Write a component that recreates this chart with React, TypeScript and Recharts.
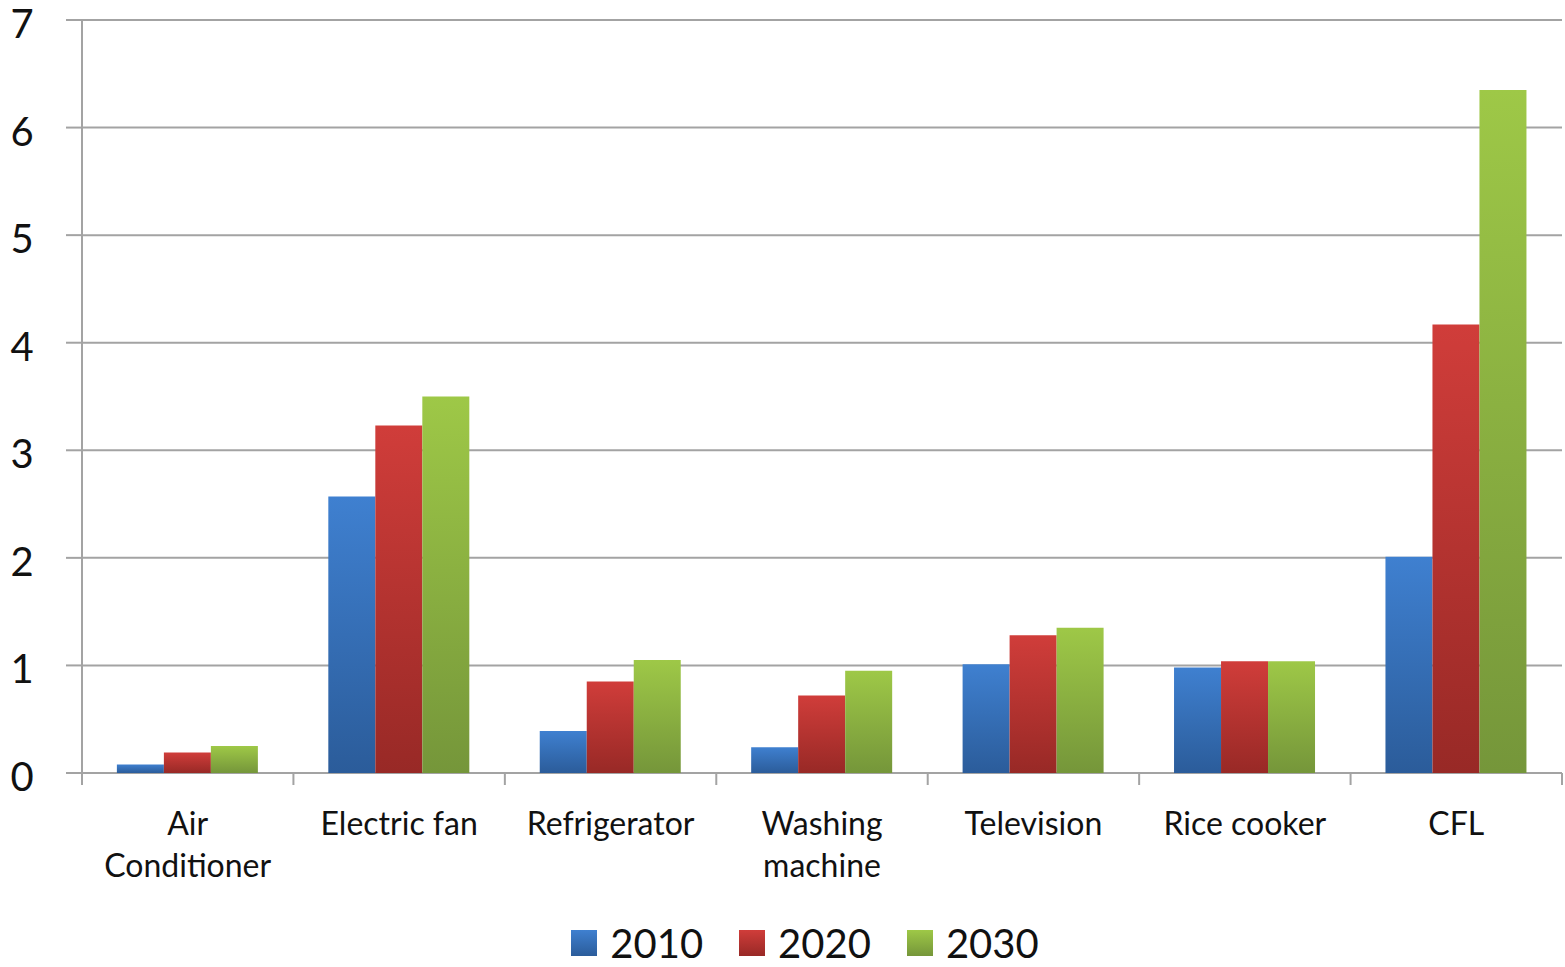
import { BarChart, Bar, XAxis, YAxis, CartesianGrid, Legend } from "recharts";

const categories = [
  "Air Conditioner",
  "Electric fan",
  "Refrigerator",
  "Washing machine",
  "Television",
  "Rice cooker",
  "CFL",
];
const v2010 = [0.08, 2.57, 0.39, 0.24, 1.01, 0.98, 2.01];
const v2020 = [0.19, 3.23, 0.85, 0.72, 1.28, 1.04, 4.17];
const v2030 = [0.25, 3.5, 1.05, 0.95, 1.35, 1.04, 6.35];
const yTicks = [0, 1, 2, 3, 4, 5, 6, 7];

const series = [
  { key: "y2010", name: "2010", top: "#3f80d0", bottom: "#2b5c9a" },
  { key: "y2020", name: "2020", top: "#d03d3a", bottom: "#982926" },
  { key: "y2030", name: "2030", top: "#9ec847", bottom: "#75963a" },
];

const data = categories.map((c, i) => ({
  name: c,
  y2010: v2010[i],
  y2020: v2020[i],
  y2030: v2030[i],
}));

const FONT = "Lato, 'Open Sans', sans-serif";
const GRID = "#a3a3a3";

const YTick = ({ y, payload }: any) => (
  <text x={22} y={y + 3} textAnchor="middle" dominantBaseline="central" fontSize={40} fill="#111" fontFamily={FONT}>
    {payload.value}
  </text>
);

// category label plus the tick marks at the band edges
const CatTick = ({ x, y, payload, index, visibleTicksCount }: any) => {
  const label: string = payload.value;
  const lines = label.length > 13 ? label.split(" ") : [label];
  const half = payload.offset ?? 0;
  const last = index === visibleTicksCount - 1;
  return (
    <g>
      <line x1={x - half} x2={x - half} y1={y} y2={y + 12} stroke={GRID} strokeWidth={2} />
      {last && <line x1={x + half} x2={x + half} y1={y} y2={y + 12} stroke={GRID} strokeWidth={2} />}
      <text textAnchor="middle" fontSize={32} fill="#111" fontFamily={FONT}>
        {lines.map((l, i) => (
          <tspan key={i} x={x} y={y + 62 + i * 42}>
            {l}
          </tspan>
        ))}
      </text>
    </g>
  );
};

const LegendContent = () => (
  <div
    style={{
      display: "flex",
      justifyContent: "center",
      alignItems: "center",
      height: 40,
      fontFamily: FONT,
      fontSize: 40,
      lineHeight: "40px",
      color: "#111",
      paddingLeft: 48,
    }}
  >
    {series.map((s) => (
      <div key={s.key} style={{ display: "flex", alignItems: "center", margin: "0 18px" }}>
        <div
          style={{
            width: 26,
            height: 26,
            marginRight: 13,
            background: `linear-gradient(${s.top}, ${s.bottom})`,
          }}
        />
        <span>{s.name}</span>
      </div>
    ))}
  </div>
);

export default function App() {
  return (
    <div style={{ position: "absolute", left: 0, top: 0, background: "#fff" }}>
      <BarChart
        width={1565}
        height={967}
        data={data}
        margin={{ top: 20, right: 3, bottom: 4, left: 0 }}
        barGap={0}
        barCategoryGap="16.5%"
      >
        <defs>
          {series.map((s) => (
            <linearGradient key={s.key} id={`g-${s.key}`} x1="0" y1="0" x2="0" y2="1">
              <stop offset="0%" stopColor={s.top} />
              <stop offset="100%" stopColor={s.bottom} />
            </linearGradient>
          ))}
        </defs>
        <CartesianGrid vertical={false} stroke={GRID} strokeWidth={2} />
        <XAxis
          dataKey="name"
          tick={<CatTick />}
          tickSize={0}
          tickMargin={0}
          tickLine={false}
          axisLine={false}
          interval={0}
          height={150}
        />
        <YAxis
          domain={[0, 7]}
          ticks={yTicks}
          interval={0}
          width={82}
          tickSize={16}
          tick={<YTick />}
          tickLine={{ stroke: GRID, strokeWidth: 2 }}
          axisLine={{ stroke: GRID, strokeWidth: 2 }}
        />
        <Legend verticalAlign="bottom" content={<LegendContent />} />
        {series.map((s) => (
          <Bar
            key={s.key}
            dataKey={s.key}
            name={s.name}
            fill={`url(#g-${s.key})`}
            isAnimationActive={false}
          />
        ))}
      </BarChart>
    </div>
  );
}
